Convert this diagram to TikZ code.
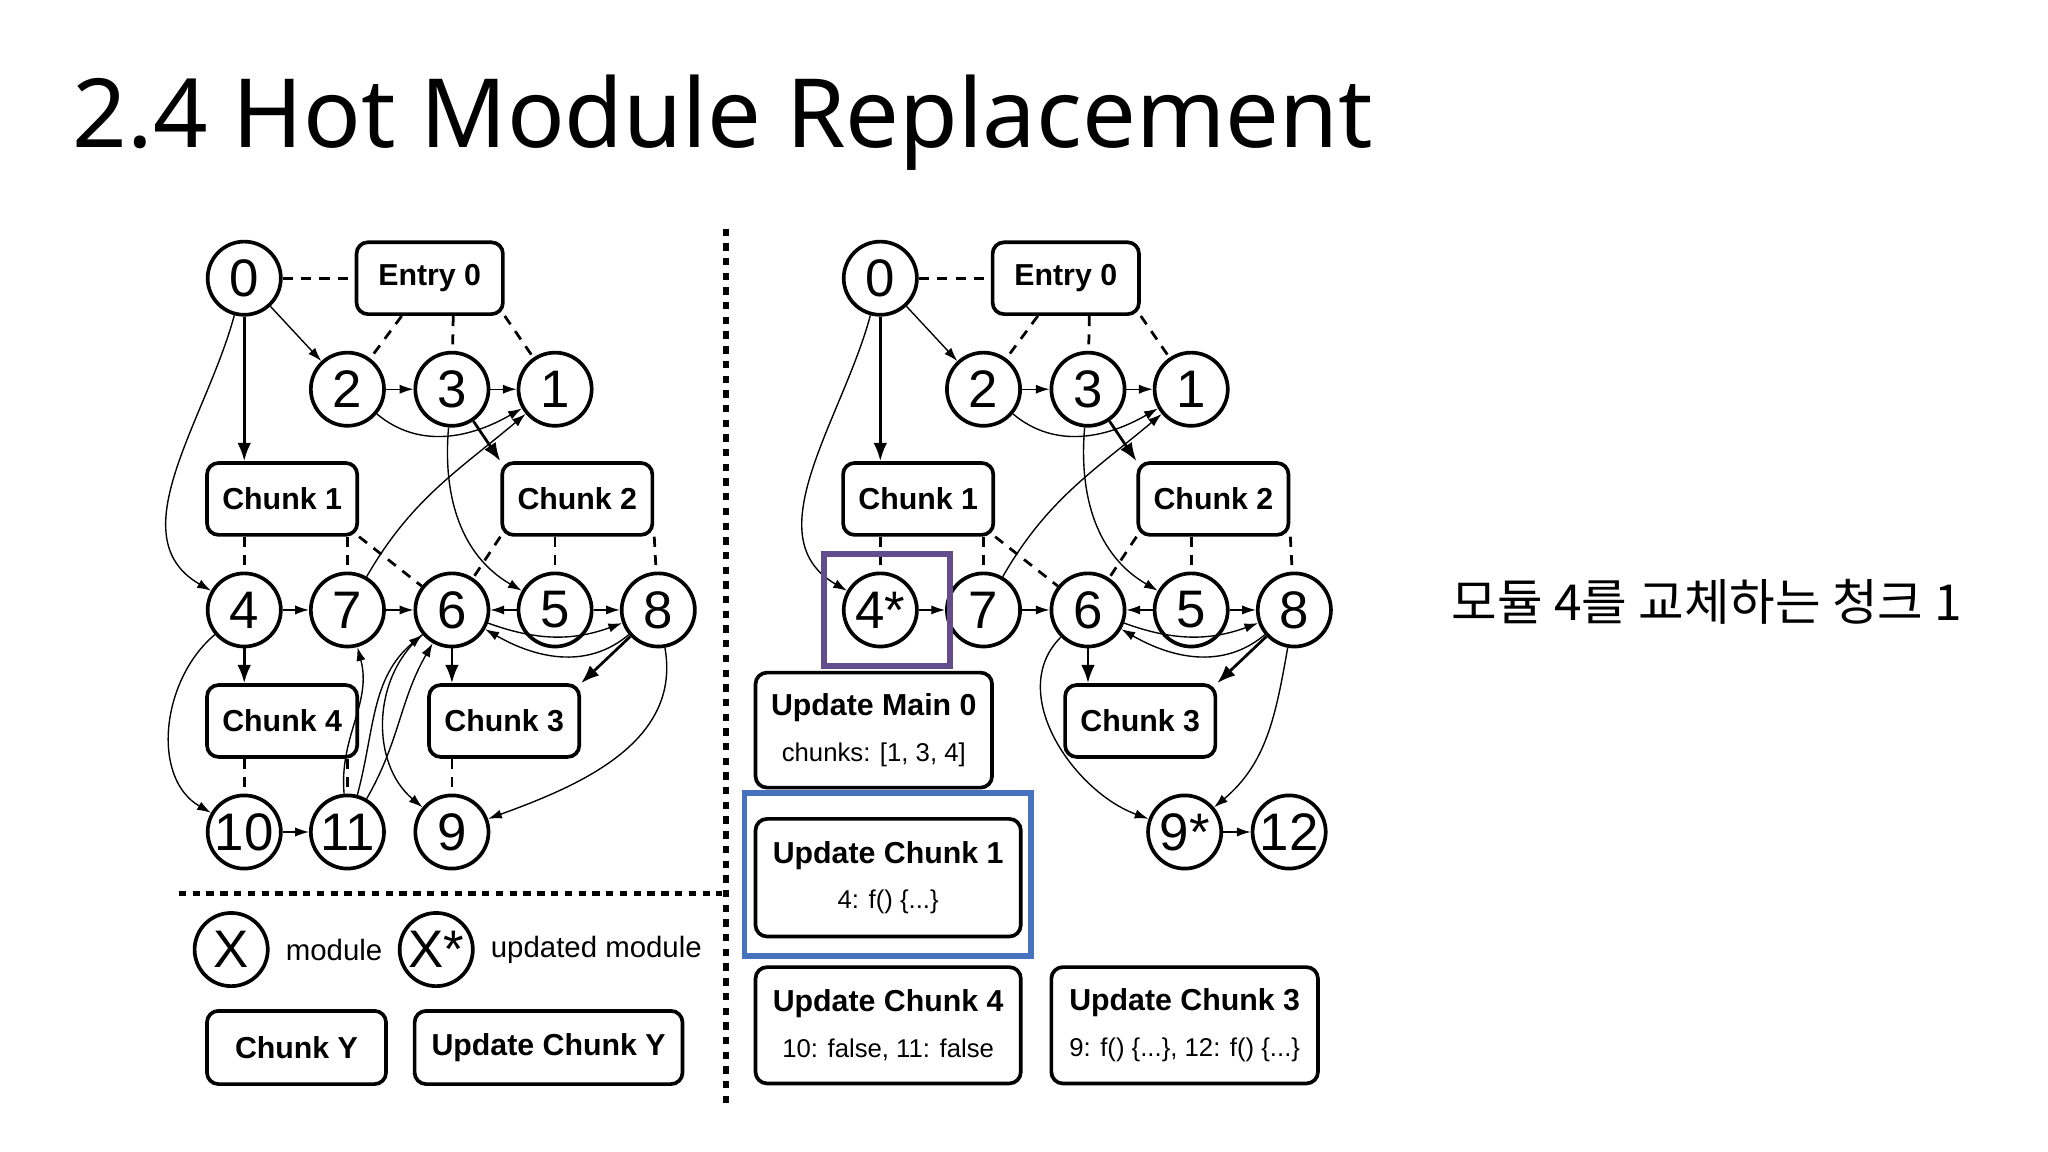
\documentclass[tikz,border=0pt]{standalone}
\usepackage{fontspec}
\setmainfont{Liberation Sans}
\newfontfamily\titlefont{Noto Sans}
\newfontfamily\cjk{Noto Sans CJK KR}
\usetikzlibrary{%
  arrows.meta,%
  calc,%
  positioning,%
}

\tikzset{
  mod/.style={circle, draw, line width=0.8pt, minimum size=0.56cm, inner sep=0pt, font=\fontsize{11.5}{12}\selectfont},
  chunk/.style={rounded corners=2.5pt, draw, line width=0.8pt, minimum height=0.55cm, font=\fontsize{6.6}{7}\selectfont\bfseries},
  upd/.style={rounded corners=2.5pt, draw, line width=0.8pt, align=center, font=\fontsize{6.6}{9}\selectfont},
  dep/.style={dashed, line width=0.6pt, dash pattern=on 2.2pt off 1.8pt},
  imp/.style={-{Latex[length=3pt,width=2pt]}, line width=0.3pt},
  load/.style={-{Latex[length=4pt,width=3pt]}, line width=0.6pt},
}

\begin{document}
\begin{tikzpicture}[x=0.01cm, y=-0.01cm]
      \useasboundingbox (0,0) rectangle (1568,882);
      \node [anchor=base west, inner sep=0pt, font=\titlefont\fontsize{20.8}{21}\selectfont] (title) at (55,113) {2.4 Hot Module Replacement};
      \node [font=\cjk\fontsize{10.8}{11}\selectfont] (note) at (1307,461) {모듈 4를 교체하는 청크 1};

      % left graph
      \node [mod] (l0) at (187,213) {0};
      \node [chunk, minimum width=1.12cm] (lentry) at (329,213) {Entry 0};
      \node [mod] (l2) at (266,298) {2};
      \node [mod] (l3) at (346,298) {3};
      \node [mod] (l1) at (425,298) {1};
      \node [chunk, minimum width=1.14cm] (lc1) at (216,382) {Chunk 1};
      \node [chunk, minimum width=1.13cm] (lc2) at (442,382) {Chunk 2};
      \node [mod] (l4) at (187,467) {4};
      \node [mod] (l7) at (266,467) {7};
      \node [mod] (l6) at (346,467) {6};
      \node [mod] (l5) at (425,467) {5};
      \node [mod] (l8) at (504,467) {8};
      \node [chunk, minimum width=1.14cm] (lc4) at (216,552) {Chunk 4};
      \node [chunk, minimum width=1.13cm] (lc3) at (386,552) {Chunk 3};
      \node [mod] (l10) at (187,637) {10};
      \node [mod] (l11) at (266,637) {11};
      \node [mod] (l9) at (346,637) {9};
      \draw [dep] (l0) -- (lentry);
      \draw [dep] (lentry) -- (l2);
      \draw [dep] (lentry.south) ++(18,0) -- (l3);
      \draw [dep] (lentry.south east) -- (l1);
      \draw [dep] (lc1.south -| l4) -- (l4);
      \draw [dep] (lc1.south -| l7) -- (l7);
      \draw [dep] (lc1.south east) -- (l6);
      \draw [dep] (lc2.south west) -- (l6);
      \draw [dep] (lc2.south -| l5) -- (l5);
      \draw [dep] (lc2.south east) -- (l8);
      \draw [dep] (lc4.south -| l10) -- (l10);
      \draw [dep] (lc4.south -| l11) -- (l11);
      \draw [dep] (lc3.south -| l9) -- (l9);
      \draw [load] (l0) -- (lc1.north -| l0);
      \draw [load] (l3) -- (lc2.north west);
      \draw [load] (l4) -- (lc4.north -| l4);
      \draw [load] (l6) -- (lc3.north -| l6);
      \draw [load] (l8) -- (lc3.north east);
      \draw [imp] (l0) -- (l2);
      \draw [imp] (l2) -- (l3);
      \draw [imp] (l3) -- (l1);
      \draw [imp] (l2) to[out=-40, in=-150] (l1);
      \draw [imp] (l0) to[out=-105, in=150] (l4);
      \draw [imp] (l3) to[out=-95, in=150] (l5);
      \draw [imp] (l7) to[out=60, in=-140] (l1);
      \draw [imp] (l4) -- (l7);
      \draw [imp] (l7) -- (l6);
      \draw [imp] (l5) -- (l6);
      \draw [imp] (l5) -- (l8);
      \draw [imp] (l8) to[out=-140, in=-30] (l6);
      \draw [imp] (l6) to[out=-20, in=-160] (l8);
      \draw [imp] (l4) to[out=-140, in=150] (l10);
      \draw [imp] (l10) -- (l11);
      \draw [imp] (l11) to[out=95, in=-75] (l7);
      \draw [imp] (l11) to[out=75, in=-140] (l6);
      \draw [imp] (l11) to[out=60, in=-120] (l6);
      \draw [imp] (l6) to[out=-140, in=140] (l9);
      \draw [imp] (l8) to[out=-80, in=20] (l9);

      % legend
      \draw [line width=1.2pt, dash pattern=on 1.6pt off 1.4pt] (137,684) -- (553,684);
      \draw [line width=1.3pt, dash pattern=on 1.6pt off 1.6pt] (556,175) -- (556,848);
      \node [mod] (lgx) at (177,727) {X};
      \node [right=0pt of lgx, font=\fontsize{6.4}{7}\selectfont] (lgxt) {module};
      \node [mod] (lgu) at (334,727) {X*};
      \node [right=0pt of lgu, font=\fontsize{6.4}{7}\selectfont] (lgut) {updated module};
      \node [chunk, minimum width=1.37cm, minimum height=0.56cm] (lgc) at (227,802) {Chunk Y};
      \node [chunk, minimum width=2.05cm, minimum height=0.56cm] (lgu2) at (420,802) {Update Chunk Y};

      % right graph
      \node [mod] (r0) at (674,213) {0};
      \node [chunk, minimum width=1.12cm] (rentry) at (816,213) {Entry 0};
      \node [mod] (r2) at (753,298) {2};
      \node [mod] (r3) at (833,298) {3};
      \node [mod] (r1) at (912,298) {1};
      \node [chunk, minimum width=1.14cm] (rc1) at (703,382) {Chunk 1};
      \node [chunk, minimum width=1.13cm] (rc2) at (929,382) {Chunk 2};
      \node [mod] (r4) at (674,467) {4*};
      \node [mod] (r7) at (753,467) {7};
      \node [mod] (r6) at (833,467) {6};
      \node [mod] (r5) at (912,467) {5};
      \node [mod] (r8) at (991,467) {8};
      \node [chunk, minimum width=1.13cm] (rc3) at (873,552) {Chunk 3};
      \node [mod] (r9) at (907,637) {9*};
      \node [mod] (r12) at (987,637) {12};
      \draw [dep] (r0) -- (rentry);
      \draw [dep] (rentry) -- (r2);
      \draw [dep] (rentry.south) ++(18,0) -- (r3);
      \draw [dep] (rentry.south east) -- (r1);
      \draw [dep] (rc1.south -| r4) -- (r4);
      \draw [dep] (rc1.south -| r7) -- (r7);
      \draw [dep] (rc1.south east) -- (r6);
      \draw [dep] (rc2.south west) -- (r6);
      \draw [dep] (rc2.south -| r5) -- (r5);
      \draw [dep] (rc2.south east) -- (r8);
      \draw [load] (r0) -- (rc1.north -| r0);
      \draw [load] (r3) -- (rc2.north west);
      \draw [load] (r6) -- (rc3.north -| r6);
      \draw [load] (r8) -- (rc3.north east);
      \draw [imp] (r0) -- (r2);
      \draw [imp] (r2) -- (r3);
      \draw [imp] (r3) -- (r1);
      \draw [imp] (r2) to[out=-40, in=-150] (r1);
      \draw [imp] (r0) to[out=-105, in=150] (r4);
      \draw [imp] (r3) to[out=-95, in=150] (r5);
      \draw [imp] (r7) to[out=60, in=-140] (r1);
      \draw [imp] (r4) -- (r7);
      \draw [imp] (r7) -- (r6);
      \draw [imp] (r5) -- (r6);
      \draw [imp] (r5) -- (r8);
      \draw [imp] (r8) to[out=-140, in=-30] (r6);
      \draw [imp] (r6) to[out=-20, in=-160] (r8);
      \draw [imp] (r6) to[out=-135, in=160] (r9);
      \draw [imp] (r8) to[out=-100, in=40] (r9);
      \draw [imp] (r9) -- (r12);

      \draw [draw={rgb,255:red,99;green,77;blue,140}, line width=1.3pt] (631,424) rectangle (727,510);
      \node [upd, minimum width=1.81cm, minimum height=0.88cm] (rum) at (669,559) {\bfseries Update Main 0\\[1pt]\fontsize{5.6}{7}\selectfont chunks: [1, 3, 4]};
      \draw [draw={rgb,255:red,70;green,114;blue,190}, line width=1.3pt] (570,607) rectangle (789,732);
      \node [upd, minimum width=2.03cm, minimum height=0.9cm] (ruc1) at (680,672) {\bfseries Update Chunk 1\\[1pt]\fontsize{5.6}{7}\selectfont 4: f() \{...\}};
      \node [upd, minimum width=2.03cm, minimum height=0.89cm] (ruc4) at (680,785) {\bfseries Update Chunk 4\\[1pt]\fontsize{5.6}{7}\selectfont 10: false, 11: false};
      \node [upd, minimum width=2.04cm, minimum height=0.89cm] (ruc3) at (907,785) {\bfseries Update Chunk 3\\[1pt]\fontsize{5.6}{7}\selectfont 9: f() \{...\}, 12: f() \{...\}};
    \end{tikzpicture}
\end{document}
